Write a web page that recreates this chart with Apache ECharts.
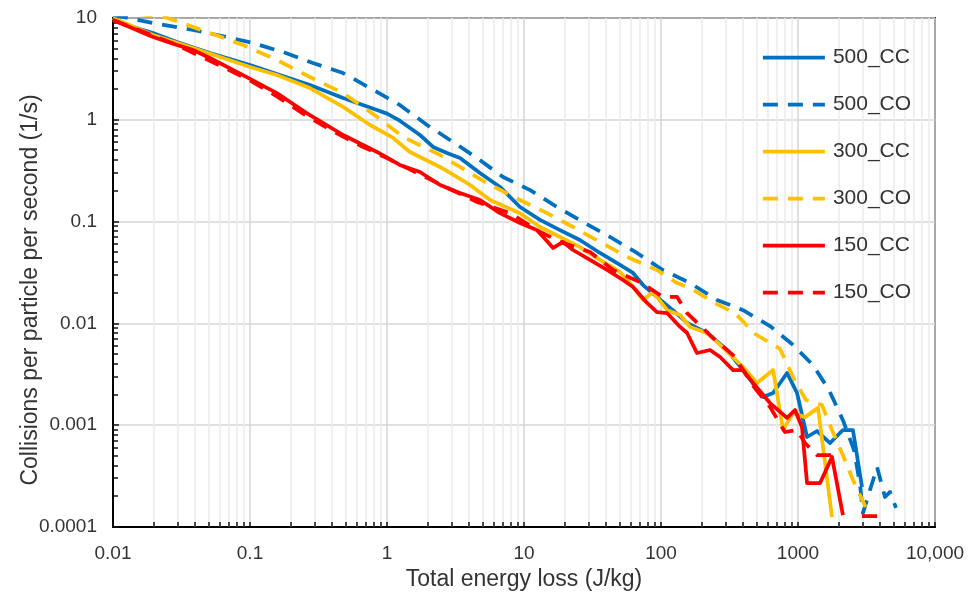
<!DOCTYPE html>
<html><head><meta charset="utf-8">
<script src="https://cdn.jsdelivr.net/npm/echarts@6/dist/echarts.min.js"></script>
<style>html,body{margin:0;padding:0;background:#fff}#c{width:974px;height:601px}</style>
</head><body><div id="c"></div>
<script>
const seriesNames = ['500_CC', '500_CO', '300_CC', '300_CO', '150_CC', '150_CO'];

const energy_500CC = [0.01, 0.0126, 0.0196, 0.0293, 0.051, 0.1, 0.157, 0.274, 0.478, 0.845, 1.0, 1.24, 1.74, 2.17, 2.74, 3.41, 4.77, 6.68, 9.35, 13.1, 18.3, 25.6, 35.9, 50.2, 62.5, 73.9, 93.5, 122, 155, 217, 303, 397, 556, 658, 832, 984, 1164, 1377, 1714, 2128, 2518, 2931];
const rate_500CC = [10, 8.53, 7.13, 5.81, 4.53, 3.45, 2.82, 2.20, 1.64, 1.25, 1.15, 0.98, 0.709, 0.541, 0.472, 0.422, 0.300, 0.219, 0.139, 0.104, 0.0826, 0.0659, 0.0492, 0.0375, 0.0313, 0.0238, 0.0182, 0.0135, 0.0101, 0.00805, 0.00548, 0.00348, 0.00189, 0.00207, 0.00326, 0.00207, 0.000766, 0.000877, 0.000668, 0.000897, 0.000897, 0.000247];

const energy_500CO = [0.01, 0.0196, 0.0384, 0.0679, 0.105, 0.174, 0.288, 0.478, 0.752, 1.24, 1.96, 2.88, 4.54, 7.03, 11.1, 17.4, 27.0, 42.5, 66.8, 103, 163, 256, 397, 625, 904, 1285, 1683, 2128, 2564, 2838, 2979, 3776, 4315, 4698, 5190];
const rate_500CO = [10.7, 8.93, 7.62, 6.51, 5.68, 4.63, 3.61, 2.88, 2.05, 1.40, 0.889, 0.634, 0.422, 0.274, 0.204, 0.139, 0.0991, 0.0706, 0.0492, 0.0335, 0.0249, 0.0170, 0.0135, 0.00942, 0.00628, 0.00390, 0.00222, 0.00112, 0.000570, 0.000259, 0.000137, 0.000388, 0.000197, 0.000221, 0.000154];

const energy_300CC = [0.01, 0.0196, 0.0384, 0.0604, 0.1, 0.157, 0.274, 0.478, 0.752, 1.11, 1.47, 2.44, 4.04, 5.65, 9.35, 13.1, 18.3, 25.6, 35.9, 50.2, 59.4, 73.9, 87.5, 111, 138, 163, 217, 270, 397, 502, 658, 778, 920, 1125, 1400, 1770];
const rate_300CC = [10, 6.81, 5.07, 4.14, 3.30, 2.75, 2.05, 1.34, 0.889, 0.663, 0.483, 0.344, 0.229, 0.163, 0.121, 0.0885, 0.0706, 0.0562, 0.0420, 0.0320, 0.0249, 0.0170, 0.0203, 0.0135, 0.0121, 0.00923, 0.00805, 0.00614, 0.00373, 0.00260, 0.00348, 0.000897, 0.00132, 0.00120, 0.00148, 0.000125];

const energy_300CO = [0.01, 0.024, 0.051, 0.0889, 0.157, 0.274, 0.478, 0.845, 1.31, 2.44, 3.41, 5.37, 9.35, 14.7, 22.8, 35.9, 56.5, 93.5, 131, 163, 240, 347, 486, 740, 920, 1143, 1496, 1770, 2094, 2518, 3243];
const rate_300CO = [11.7, 10.2, 7.13, 5.43, 3.87, 2.63, 1.83, 1.07, 0.678, 0.451, 0.344, 0.239, 0.163, 0.121, 0.0885, 0.0631, 0.0449, 0.0335, 0.0249, 0.0223, 0.0162, 0.0126, 0.00787, 0.00561, 0.00297, 0.00177, 0.00158, 0.000897, 0.000533, 0.000290, 0.000140];

const energy_150CC = [0.01, 0.0196, 0.0293, 0.0384, 0.051, 0.0889, 0.157, 0.274, 0.478, 0.845, 1.24, 1.74, 2.44, 3.41, 4.77, 6.68, 9.35, 12.4, 14.7, 16.3, 19.3, 22.8, 30.3, 40.4, 52.8, 62.5, 79.1, 93.5, 111, 138, 155, 183, 228, 270, 336, 397, 470, 625, 832, 951, 1069, 1164, 1449, 1770, 2128];
const rate_150CC = [9.56, 6.51, 5.43, 4.85, 4.05, 2.75, 1.83, 1.11, 0.709, 0.483, 0.360, 0.307, 0.229, 0.191, 0.163, 0.121, 0.0969, 0.0826, 0.0645, 0.0551, 0.0631, 0.0526, 0.0420, 0.0335, 0.0267, 0.0228, 0.0159, 0.0129, 0.0126, 0.00923, 0.00805, 0.00512, 0.00548, 0.00468, 0.00348, 0.00348, 0.00260, 0.00165, 0.00118, 0.00141, 0.000960, 0.000270, 0.000270, 0.000488, 0.000131];

const energy_150CO = [0.01, 0.0293, 0.0679, 0.105, 0.157, 0.244, 0.384, 0.635, 1, 1.66, 2.74, 4.54, 7.91, 13.1, 19.3, 30.3, 44.7, 72.6, 103, 131, 155, 236, 347, 470, 625, 804, 984, 1125, 1377, 1770, 2300, 2931, 3776];
const rate_150CO = [9.56, 5.43, 3.15, 2.35, 1.70, 1.15, 0.80, 0.56, 0.42, 0.30, 0.215, 0.156, 0.121, 0.0791, 0.0617, 0.0503, 0.0335, 0.0249, 0.0182, 0.0182, 0.0126, 0.00735, 0.00468, 0.00243, 0.00151, 0.000857, 0.000897, 0.000668, 0.000509, 0.000509, '-', 0.000128, 0.000128];

const xTickValues = [0.01, 0.1, 1, 10, 100, 1000, 10000];
const xTickLabels = ['0.01', '0.1', '1', '10', '100', '1000', '10,000'];
const yTickValues = [0.0001, 0.001, 0.01, 0.1, 1, 10];
const yTickLabels = ['0.0001', '0.001', '0.01', '0.1', '1', '10'];
const xMinorTicks = [0.02, 0.03, 0.04, 0.05, 0.06, 0.07, 0.08, 0.09,
  0.2, 0.3, 0.4, 0.5, 0.6, 0.7, 0.8, 0.9,
  2, 3, 4, 5, 6, 7, 8, 9,
  20, 30, 40, 50, 60, 70, 80, 90,
  200, 300, 400, 500, 600, 700, 800, 900,
  2000, 3000, 4000, 5000, 6000, 7000, 8000, 9000];
const yMinorTicks = [0.0002, 0.0003, 0.0004, 0.0005, 0.0006, 0.0007, 0.0008, 0.0009,
  0.002, 0.003, 0.004, 0.005, 0.006, 0.007, 0.008, 0.009,
  0.02, 0.03, 0.04, 0.05, 0.06, 0.07, 0.08, 0.09,
  0.2, 0.3, 0.4, 0.5, 0.6, 0.7, 0.8, 0.9,
  2, 3, 4, 5, 6, 7, 8, 9];

const xAxisTitle = 'Total energy loss (J/kg)';
const yAxisTitle = 'Collisions per particle per second (1/s)';

const COLORS = { '500': '#0070C0', '300': '#FFC000', '150': '#FF0000' };
const FONT = '"Liberation Sans", Arial, sans-serif';
const TXT = '#333333';

function pairs(xs, ys) { return xs.map((x, i) => [x, ys[i]]); }
function lookup(vals, labels, v) {
  for (let i = 0; i < vals.length; i++) {
    if (Math.abs(Math.log10(v) - Math.log10(vals[i])) < 1e-6) return labels[i];
  }
  return '';
}

const seriesData = {
  '500_CC': pairs(energy_500CC, rate_500CC),
  '500_CO': pairs(energy_500CO, rate_500CO),
  '300_CC': pairs(energy_300CC, rate_300CC),
  '300_CO': pairs(energy_300CO, rate_300CO),
  '150_CC': pairs(energy_150CC, rate_150CC),
  '150_CO': pairs(energy_150CO, rate_150CO)
};

const chart = echarts.init(document.getElementById('c'), null, { renderer: 'canvas' });

const lineSeries = seriesNames.map((name, i) => {
  const dashed = name.endsWith('CO');
  return {
    name: name,
    type: 'line',
    data: seriesData[name],
    showSymbol: false,
    symbol: 'none',
    clip: true,
    z: 3 + i,
    color: COLORS[name.slice(0, 3)],
    lineStyle: { width: 3.75, type: dashed ? [15, 10] : 'solid', cap: 'butt', join: 'round' },
    emphasis: { disabled: true },
    animation: false
  };
});

const xMinorSeries = {
  type: 'custom',
  silent: true,
  z: 1,
  animation: false,
  data: xMinorTicks.map(v => [v, 1]),
  renderItem: function (params, api) {
    const cs = params.coordSys;
    const px = Math.round(api.coord([api.value(0), 1])[0]);
    const bottom = cs.y + cs.height;
    return { type: 'group', children: [
      { type: 'line', shape: { x1: px, y1: cs.y, x2: px, y2: bottom }, style: { stroke: '#ebebeb', lineWidth: 1.5 } },
      { type: 'line', shape: { x1: px, y1: bottom, x2: px, y2: bottom - 5 }, style: { stroke: '#111', lineWidth: 1.5 } }
    ] };
  }
};
const yMinorSeries = {
  type: 'custom',
  silent: true,
  z: 2,
  animation: false,
  data: yMinorTicks.map(v => [1, v]),
  renderItem: function (params, api) {
    const cs = params.coordSys;
    const py = Math.round(api.coord([1, api.value(1)])[1]);
    return { type: 'line', shape: { x1: cs.x, y1: py, x2: cs.x + 5, y2: py }, style: { stroke: '#111', lineWidth: 1.5 } };
  }
};

chart.setOption({
  backgroundColor: '#ffffff',
  animation: false,
  textStyle: { fontFamily: FONT },
  grid: { left: 113, right: 39, top: 18, bottom: 74, show: true, borderColor: '#222', borderWidth: 2, backgroundColor: 'transparent' },
  legend: {
    data: seriesNames,
    orient: 'vertical',
    left: 756,
    top: 42,
    itemWidth: 62,
    itemHeight: 20,
    itemGap: 26,
    selectedMode: false,
    itemStyle: { opacity: 0 },
    lineStyle: { width: 3.75 },
    textStyle: { fontSize: 21, color: TXT, fontFamily: FONT, padding: [0, 0, 0, 3] }
  },
  graphic: [{
    type: 'text',
    x: 31,
    y: 290,
    rotation: Math.PI / 2,
    silent: true,
    style: { text: yAxisTitle, fill: TXT, font: '23px "Liberation Sans", Arial, sans-serif', align: 'center', verticalAlign: 'middle' }
  }],
  xAxis: {
    type: 'log', logBase: 10, min: 0.01, max: 10000,
    name: xAxisTitle, nameLocation: 'middle', nameGap: 41,
    nameTextStyle: { fontSize: 23, color: TXT, fontFamily: FONT },
    axisLine: { show: true, lineStyle: { color: '#000', width: 2 } },
    axisTick: { show: true, inside: true, length: 5, lineStyle: { color: '#111', width: 1.5 } },
    axisLabel: { fontSize: 19, color: TXT, fontFamily: FONT, margin: 17, formatter: v => lookup(xTickValues, xTickLabels, v) },
    splitLine: { show: true, lineStyle: { color: '#d6d6d6', width: 1.5 } },
    minorTick: { show: false }, minorSplitLine: { show: false }
  },
  yAxis: {
    type: 'log', logBase: 10, min: 0.0001, max: 10,
    axisLine: { show: true, lineStyle: { color: '#000', width: 2 } },
    axisTick: { show: true, inside: true, length: 6, lineStyle: { color: '#111', width: 1.5 } },
    axisLabel: { fontSize: 19, color: TXT, fontFamily: FONT, margin: 16, formatter: v => lookup(yTickValues, yTickLabels, v) },
    splitLine: { show: true, lineStyle: { color: '#d6d6d6', width: 1.5 } },
    minorTick: { show: false }, minorSplitLine: { show: false }
  },
  series: [xMinorSeries, yMinorSeries].concat(lineSeries)
});
</script>
</body></html>
